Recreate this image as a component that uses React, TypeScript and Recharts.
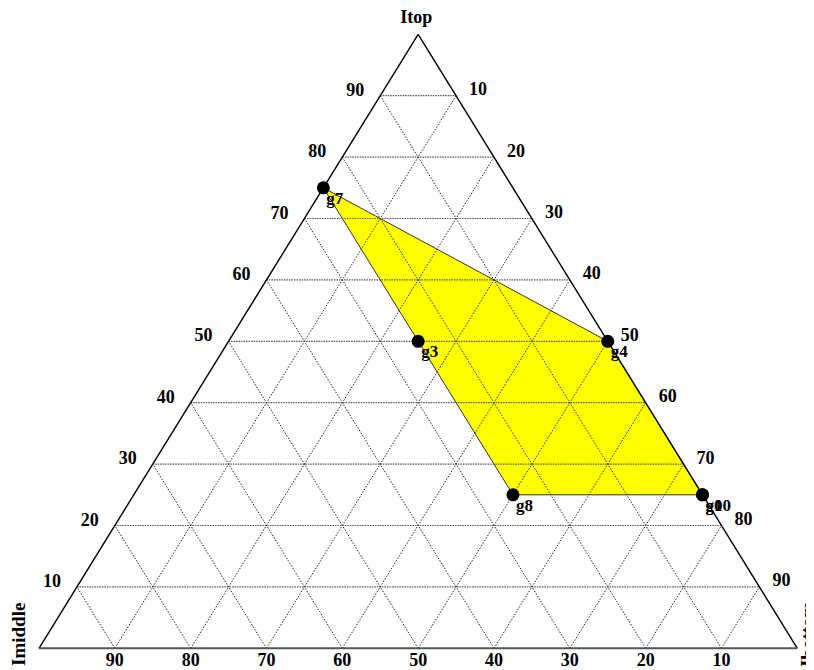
import React from "react";
import { ScatterChart, Scatter, XAxis, YAxis, ReferenceLine, ReferenceArea } from "recharts";

const ticks = [10, 20, 30, 40, 50, 60, 70, 80, 90];

const sampleNames = ["g7", "g3", "g4", "g8", "g0", "g10"];
const sampleTop = [75, 50, 50, 25, 25, 25];
const sampleBottom = [0, 25, 50, 50, 75, 75];

const hullOrder = ["g7", "g4", "g0", "g8", "g3"];

const cornerNames = ["Itop", "Imiddle", "Ibottom"];
const cornerTop = [100, 0, 0];
const cornerBottom = [0, 0, 100];

// ternary -> plane. x goes from the Imiddle corner (0) to the Ibottom corner (100)
const toXY = (top: number, bottom: number) => ({ x: bottom + top / 2, y: top });

const samples = sampleNames.map((name, i) => ({ name, ...toXY(sampleTop[i], sampleBottom[i]) }));
const hull = hullOrder.map((n) => samples.find((s) => s.name === n)!);

const leftLabels = ticks.map((t) => ({ ...toXY(t, 0), label: t }));
const rightLabels = ticks.map((t) => ({ ...toXY(t, 100 - t), label: 100 - t }));
const bottomLabels = ticks.map((t) => ({ ...toXY(0, t), label: 100 - t }));
const corners = cornerNames.map((name, i) => ({ name, ...toXY(cornerTop[i], cornerBottom[i]) }));

const topLines = ticks.map((k) => [toXY(k, 0), toXY(k, 100 - k)]);
const bottomLines = ticks.map((k) => [toXY(0, k), toXY(100 - k, k)]);
const middleLines = ticks.map((k) => [toXY(0, 100 - k), toXY(100 - k, 0)]);
const edges = [
  [toXY(0, 0), toXY(100, 0)],
  [toXY(100, 0), toXY(0, 100)],
];
const baseEdge = [toXY(0, 0), toXY(0, 100)];

const FONT = "'Liberation Serif', 'Times New Roman', serif";

const hx = hull.map((h) => h.x);
const hy = hull.map((h) => h.y);
const x1 = Math.min(...hx);
const x2 = Math.max(...hx);
const y1 = Math.min(...hy);
const y2 = Math.max(...hy);

function HullShape(p: any) {
  const { x, y, width, height } = p;
  const pts = hull
    .map((h) => `${x + ((h.x - x1) / (x2 - x1)) * width},${y + ((y2 - h.y) / (y2 - y1)) * height}`)
    .join(" ");
  return <polygon points={pts} fill="#FFFF00" stroke="#333" strokeWidth={1} />;
}

const txt = { fontFamily: FONT, fontWeight: 700, fill: "#000" } as const;

export default function App() {
  return (
    <ScatterChart width={806} height={662} margin={{ top: 26.3, right: 16.7, bottom: 21.7, left: 31 }}>
      <XAxis type="number" dataKey="x" domain={[0, 100]} hide />
      <YAxis type="number" dataKey="y" domain={[0, 100]} hide />
      <ReferenceArea x1={x1} x2={x2} y1={y1} y2={y2} shape={HullShape} ifOverflow="visible" />
      {topLines.map((s, i) => (
        <ReferenceLine key={"t" + i} segment={s} stroke="#555" strokeWidth={1.2} strokeDasharray="1.5 1" ifOverflow="visible" />
      ))}
      {bottomLines.map((s, i) => (
        <ReferenceLine key={"b" + i} segment={s} stroke="#222" strokeDasharray="1.5 1.5" ifOverflow="visible" />
      ))}
      {middleLines.map((s, i) => (
        <ReferenceLine key={"m" + i} segment={s} stroke="#222" strokeDasharray="1.5 1.5" ifOverflow="visible" />
      ))}
      {edges.map((s, i) => (
        <ReferenceLine key={"e" + i} segment={s} stroke="#000" strokeWidth={1.4} ifOverflow="visible" />
      ))}
      <ReferenceLine segment={baseEdge} stroke="#555" strokeWidth={2} ifOverflow="visible" />
      <Scatter
        data={leftLabels}
        isAnimationActive={false}
        shape={(p: any) => (
          <text x={p.cx - 25} y={p.cy} textAnchor="middle" fontSize={18} {...txt}>
            {p.payload.label}
          </text>
        )}
      />
      <Scatter
        data={rightLabels}
        isAnimationActive={false}
        shape={(p: any) => (
          <text x={p.cx + 22} y={p.cy - 0.5} textAnchor="middle" fontSize={18} {...txt}>
            {p.payload.label}
          </text>
        )}
      />
      <Scatter
        data={bottomLabels}
        isAnimationActive={false}
        shape={(p: any) => (
          <text x={p.cx} y={p.cy + 17.5} textAnchor="middle" fontSize={18} {...txt}>
            {p.payload.label}
          </text>
        )}
      />
      <Scatter
        data={corners}
        isAnimationActive={false}
        shape={(p: any) => {
          const n = p.payload.name;
          if (n === "Itop") {
            return (
              <text x={p.cx - 2} y={p.cy - 11} textAnchor="middle" fontSize={18} {...txt}>
                {n}
              </text>
            );
          }
          const cx = n === "Imiddle" ? p.cx - 20 : p.cx + 10;
          const cy = p.cy - 14;
          return (
            <text
              x={cx}
              y={cy}
              textAnchor="middle"
              dominantBaseline="central"
              fontSize={19}
              transform={`rotate(-90 ${cx} ${cy})`}
              {...txt}
            >
              {n}
            </text>
          );
        }}
      />
      <Scatter
        data={samples}
        isAnimationActive={false}
        shape={(p: any) => (
          <g>
            <circle cx={p.cx} cy={p.cy} r={6.5} fill="#000" />
            <text x={p.cx + 3} y={p.cy + 16} fontSize={17} {...txt}>
              {p.payload.name}
            </text>
          </g>
        )}
      />
    </ScatterChart>
  );
}
